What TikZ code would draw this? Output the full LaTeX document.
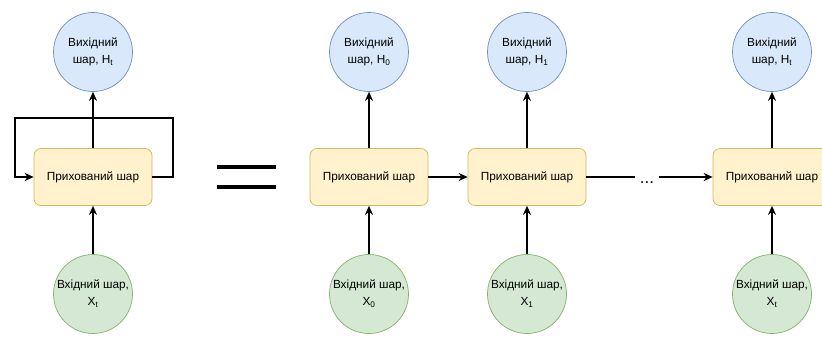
\documentclass[tikz,border=0pt]{standalone}
\usepackage{fontspec}
\setmainfont{Liberation Sans}
\usetikzlibrary{arrows.meta}

\definecolor{hidfill}{HTML}{FFF2CC}
\definecolor{hiddraw}{HTML}{D6B656}
\definecolor{outfill}{HTML}{DAE8FC}
\definecolor{outdraw}{HTML}{6C8EBF}
\definecolor{infill}{HTML}{D5E8D4}
\definecolor{indraw}{HTML}{82B366}

\begin{document}
\begin{tikzpicture}[x=1pt, y=-1pt, >={Stealth[length=9pt,width=8pt]}]
\tikzset{hidden/.style={draw=hiddraw, fill=hidfill, rounded corners=7pt, line width=0.7pt,
                        minimum width=118pt, minimum height=57pt,
                        font=\fontsize{11.8}{14}\selectfont},
         outlayer/.style={circle, draw=outdraw, fill=outfill, line width=0.7pt, minimum size=79pt,
                          inner sep=0pt, align=center, font=\fontsize{11.8}{17}\selectfont},
         inlayer/.style={circle, draw=indraw, fill=infill, line width=0.7pt, minimum size=79pt,
                         inner sep=0pt, align=center, font=\fontsize{11.8}{17}\selectfont},
         link/.style={->, line width=1.6pt},
         loop/.style={->, line width=2pt}}
\useasboundingbox (0,0) rectangle (822,338);

\node[hidden] (hl) at (93,177) {Прихований шар};
\node[outlayer] (yl) at (93,52) {Вихідний\\шар, H\textsubscript{t}};
\node[inlayer] (xl) at (93,294) {Вхідний шар,\\X\textsubscript{t}};
\coordinate (loopr) at (173,118);
\coordinate (loopl) at (15,118);

\node[hidden] (h0) at (369,177) {Прихований шар};
\node[outlayer] (y0) at (369,52) {Вихідний\\шар, H\textsubscript{0}};
\node[inlayer] (x0) at (369,294) {Вхідний шар,\\X\textsubscript{0}};

\node[hidden] (h1) at (527,177) {Прихований шар};
\node[outlayer] (y1) at (527,52) {Вихідний\\шар, H\textsubscript{1}};
\node[inlayer] (x1) at (527,294) {Вхідний шар,\\X\textsubscript{1}};

\node[hidden] (ht) at (772,177) {Прихований шар};
\node[outlayer] (yt) at (772,52) {Вихідний\\шар, H\textsubscript{t}};
\node[inlayer] (xt) at (772,294) {Вхідний шар,\\X\textsubscript{t}};

\node[font=\fontsize{17}{17}\selectfont] (dots) at (647,183) {...};
\coordinate (dotl) at (635,177);
\coordinate (dotr) at (659,177);

\coordinate (eqa) at (217,167);
\coordinate (eqb) at (276,167);
\coordinate (eqc) at (217,187);
\coordinate (eqd) at (276,187);
\draw[line width=4pt] (eqa) -- (eqb);
\draw[line width=4pt] (eqc) -- (eqd);

\draw[link] (xl) -- (hl);
\draw[link] (hl) -- (yl);
\draw[loop] (hl.east) -| (loopr) -- (loopl) |- (hl.west);

\draw[link] (x0) -- (h0);
\draw[link] (h0) -- (y0);
\draw[link] (h0) -- (h1);
\draw[link] (x1) -- (h1);
\draw[link] (h1) -- (y1);
\draw[line width=1.6pt] (h1.east) -- (dotl);
\draw[link] (dotr) -- (ht.west);
\draw[link] (xt) -- (ht);
\draw[link] (ht) -- (yt);

\end{tikzpicture}
\end{document}
